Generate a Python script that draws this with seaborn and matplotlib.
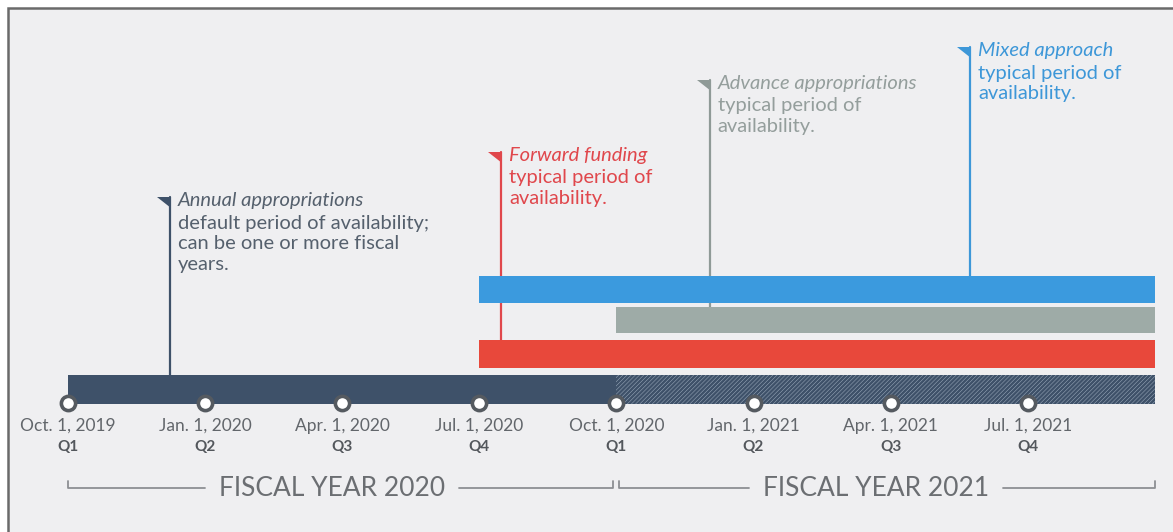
import numpy as np
import pandas as pd
import seaborn as sns
import matplotlib.pyplot as plt
from matplotlib.patches import Rectangle, Polygon

# quarter ticks along the timeline (index 0 = Oct. 1, 2019)
tick_dates = ["Oct. 1, 2019", "Jan. 1, 2020", "Apr. 1, 2020", "Jul. 1, 2020",
              "Oct. 1, 2020", "Jan. 1, 2021", "Apr. 1, 2021", "Jul. 1, 2021"]
tick_quarters = ["Q1", "Q2", "Q3", "Q4", "Q1", "Q2", "Q3", "Q4"]
fiscal_years = ["FISCAL YEAR 2020", "FISCAL YEAR 2021"]
fiscal_spans = [(0, 4), (4, 7.93)]

# availability bars, in quarters from Oct. 1, 2019
bar_names = ["Mixed approach", "Advance appropriations", "Forward funding", "Annual appropriations"]
bar_starts = [3, 4, 3, 0]
bar_ends = [7.93, 7.93, 7.93, 4]
annual_extension_end = 7.93

# flags: title, description, pole position (quarters)
flag_titles = ["Annual appropriations", "Forward funding", "Advance appropriations", "Mixed approach"]
flag_texts = ["default period of availability;\ncan be one or more fiscal\nyears.",
              "typical period of\navailability.",
              "typical period of\navailability.",
              "typical period of\navailability."]
flag_pos = [0.745, 3.16, 4.68, 6.58]

W, H = 1173, 532
PX = 137.1          # pixels per quarter
X0 = 68             # pixel of Oct. 1, 2019

sns.set_theme(style="white")
plt.rcParams["font.family"] = ["Lato", "DejaVu Sans"]
plt.rcParams["hatch.linewidth"] = 1.8

fig = plt.figure(figsize=(W / 100, H / 100), dpi=100)
fig.patch.set_facecolor("white")
ax = fig.add_axes([0, 0, 1, 1])
ax.set_facecolor("none")
# panel background with border on the left and top
ax.add_patch(Rectangle((8 / W, -0.05), 1.1, 1 - 8 / H + 0.05, transform=ax.transAxes,
                       facecolor="#efeff1", edgecolor="#6a6a6a", linewidth=1.8, zorder=0))

colors = {"Mixed approach": "#3b9ade", "Advance appropriations": "#9eaba7",
          "Forward funding": "#e8483b", "Annual appropriations": "#3e5169"}
text_colors = ["#55606d", "#e0474c", "#949e9c", "#3d97d8"]
flag_colors = ["#3e5169", "#e0474c", "#8f9a97", "#3d97d8"]
bar_y = [289.5, 320, 354, 389.5]
bar_h = [27, 26, 28, 29]

for name, s, e, y, h in zip(bar_names, bar_starts, bar_ends, bar_y, bar_h):
    ax.barh(y, e - s, left=s, height=h, color=colors[name], linewidth=0, zorder=2)
# hatched continuation of the annual bar
ax.barh(bar_y[3], annual_extension_end - bar_ends[3], left=bar_ends[3], height=bar_h[3],
        color="#a9b8c8", edgecolor="#3e5169", hatch="////////", linewidth=0, zorder=2)

# quarter markers
ticks = pd.DataFrame({"q": np.arange(len(tick_dates)), "y": 403})
sns.scatterplot(data=ticks, x="q", y="y", ax=ax, s=105, color="white",
                edgecolor="#555a60", linewidth=2.6, zorder=4, legend=False)
ax.set_xlim(-X0 / PX, (W - X0) / PX)
ax.set_ylim(H, 0)
ax.axis("off")
for q, (d, lab) in enumerate(zip(tick_dates, tick_quarters)):
    ax.text(q, 426, d, ha="center", va="center", fontsize=12.5, color="#62666b", zorder=5)
    ax.text(q, 447, lab, ha="center", va="center", fontsize=11, color="#53575c",
            fontweight="bold", zorder=5)

# fiscal year brackets
for (a, b), fy in zip(fiscal_spans, fiscal_years):
    a_adj = a + (3 / PX if a > 0 else 0)
    b_adj = b - (3 / PX if b == 4 else 0)
    mid = (a + b) / 2 - 10 / PX
    half = 127 / PX
    ax.plot([a_adj, a_adj, mid - half], [481, 488, 488], color="#8d8f93", lw=1.3, zorder=3)
    ax.plot([mid + half, b_adj, b_adj], [488, 488, 481], color="#8d8f93", lw=1.3, zorder=3)
    ax.text(mid, 488, fy, ha="center", va="center", fontsize=19, color="#6b6e72", zorder=5)

# flags with callouts
flag_top = [197, 152, 80, 47]
pole_bottom = [bar_y[3] - bar_h[3] / 2, bar_y[2] - bar_h[2] / 2,
               bar_y[1] - bar_h[1] / 2, bar_y[0] - bar_h[0] / 2]
for i in range(len(flag_titles)):
    x = flag_pos[i]
    ax.plot([x, x], [flag_top[i], pole_bottom[i]], color=flag_colors[i], lw=1.6, zorder=1)
    ax.add_patch(Polygon([(x - 13 / PX, flag_top[i]), (x + 1 / PX, flag_top[i]),
                          (x + 1 / PX, flag_top[i] + 11)], closed=True,
                         facecolor=flag_colors[i], edgecolor="none", zorder=3))
    tx = x + 8 / PX
    ax.text(tx, flag_top[i] - 5, flag_titles[i], ha="left", va="top", fontsize=14.5,
            style="italic", color=text_colors[i], zorder=5)
    ax.text(tx, flag_top[i] + 17.5, flag_texts[i], ha="left", va="top", fontsize=14.5,
            color=text_colors[i], linespacing=1.28, zorder=5)

fig.savefig("out.png", dpi=100)
